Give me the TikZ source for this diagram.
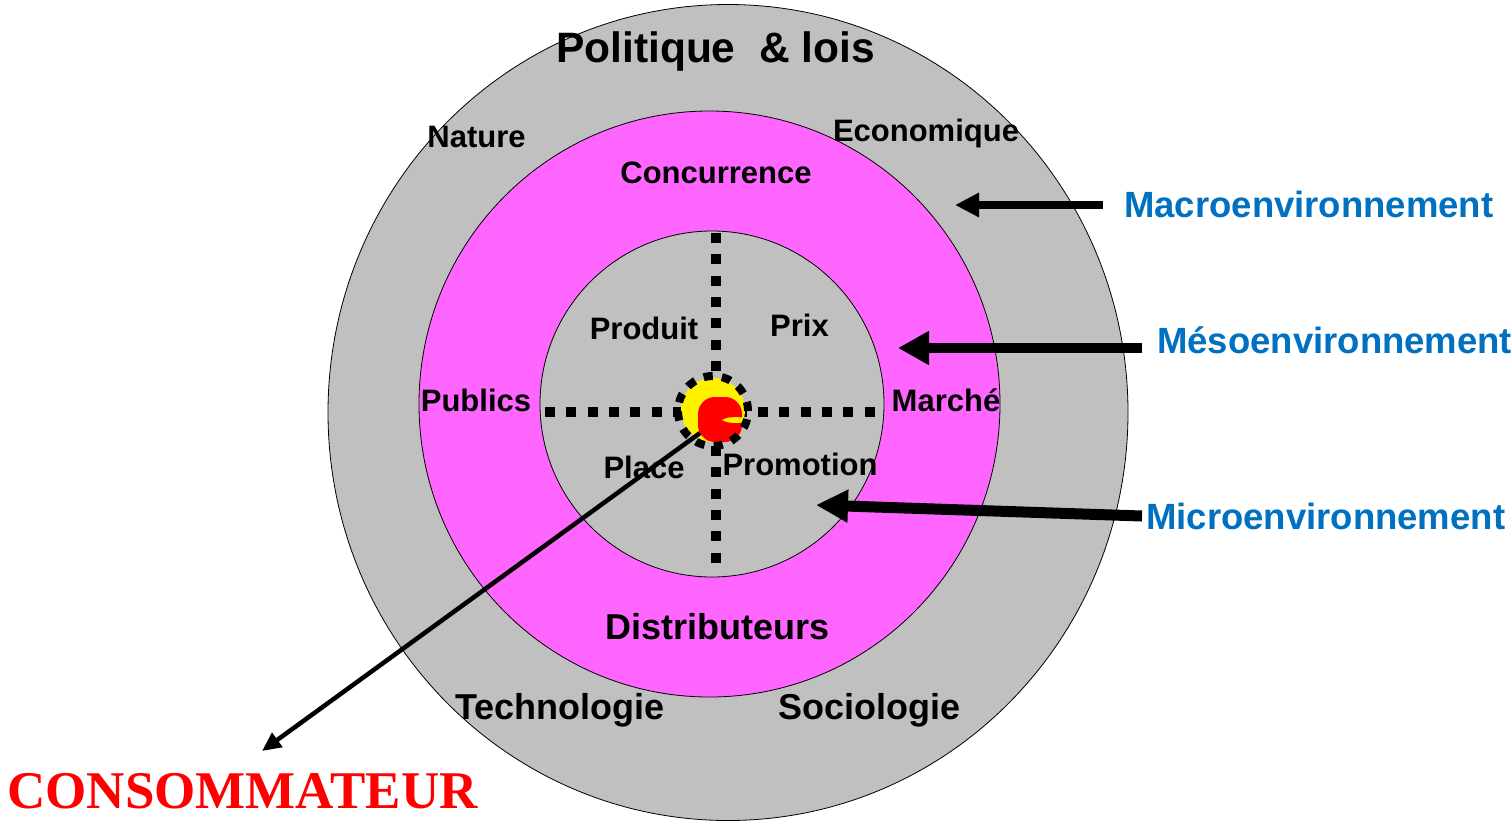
\documentclass[tikz,border=0pt]{standalone}
\usepackage{fontspec}
\setmainfont{Liberation Sans}
\newfontfamily\timesfont{Liberation Serif}
\usetikzlibrary{arrows.meta}
\definecolor{ringgrey}{HTML}{C0C0C0}
\definecolor{ringpink}{HTML}{FF66FF}
\definecolor{envblue}{HTML}{0070C0}
\definecolor{consred}{HTML}{FF0000}
\tikzset{
  lblS/.style={font=\bfseries\fontsize{31}{31}\selectfont, inner sep=0pt, anchor=base},
  lblM/.style={font=\bfseries\fontsize{36}{36}\selectfont, inner sep=0pt, anchor=base},
  lblL/.style={font=\bfseries\fontsize{42.5}{42.5}\selectfont, inner sep=0pt, anchor=base},
  envlbl/.style={font=\bfseries\fontsize{36.5}{36.5}\selectfont, text=envblue, inner sep=0pt, anchor=base west},
  dotline/.style={line width=10pt, dash pattern=on 10pt off 11.3pt},
}
\begin{document}
\begin{tikzpicture}[x=1pt,y=-1pt]
\useasboundingbox (0,0) rectangle (1512,823);
% rings
\draw[fill=ringgrey, line width=0.8pt] (728,412.5) ellipse [x radius=400pt, y radius=408pt];
\draw[fill=ringpink, line width=0.8pt] (709.5,404) ellipse [x radius=290.5pt, y radius=293pt];
\draw[fill=ringgrey, line width=0.8pt] (712,404) ellipse [x radius=172pt, y radius=173pt];
% dotted cross
\coordinate (vtop) at (715.5,233);
\coordinate (vbot) at (715.5,566);
\coordinate (hleft) at (545,412);
\coordinate (hright) at (882,412);
\draw[dotline] (vtop) -- (vbot);
\draw[dotline] (hleft) -- (hright);
% core
\fill[yellow] (713,410) circle [radius=32pt];
\fill[consred, rounded corners=17pt] (698,397) rectangle (742,442);
\fill[yellow] (722,420) .. controls (727,416.5) and (736,417) .. (743,417.5)
  -- (743,422.5) .. controls (736,423) and (727,423.5) .. (722,420) -- cycle;
\draw[line width=8pt, dash pattern=on 9.2pt off 9.2pt] (713,411) circle [radius=35pt];
\coordinate (core) at (700,433);
% labels
\node[lblL] (politique) at (715.5,62.5) {Politique\ \ \& lois};
\node[lblS] (nature) at (476.5,147) {Nature};
\node[lblS] (economique) at (926,141) {Economique};
\node[lblS] (concurrence) at (716,183) {Concurrence};
\node[lblS] (produit) at (644,339) {Produit};
\node[lblS] (prix) at (799.5,336) {Prix};
\node[lblS] (publics) at (476,411) {Publics};
\node[lblS] (marche) at (946,411) {Marché};
\node[lblS] (place) at (644,478) {Place};
\node[lblS] (promotion) at (800,475) {Promotion};
\node[lblM] (distributeurs) at (717.5,639) {Distributeurs};
\node[lblM] (technologie) at (560,719) {Technologie};
\node[lblM] (sociologie) at (869.5,719) {Sociologie};
\node[envlbl] (macro) at (1124,217) {Macroenvironnement};
\node[envlbl] (meso) at (1157,353) {Mésoenvironnement};
\node[envlbl] (micro) at (1146,529) {Microenvironnement};
\node[font=\timesfont\bfseries\fontsize{53}{53}\selectfont, text=consred, inner sep=0pt, anchor=base] (conso) at (242.5,808) {CONSOMMATEUR};
% arrows
\coordinate (macroS) at (1103,205);
\coordinate (macroT) at (955,205);
\coordinate (mesoS) at (1142,348);
\coordinate (mesoT) at (898,348);
\coordinate (microS) at (1142,516);
\coordinate (microT) at (816,505);
\coordinate (consoT) at (262,751);
\draw[line width=8pt, -{Triangle[length=24pt,width=23pt]}] (macroS) -- (macroT);
\draw[line width=10pt, -{Triangle[length=31pt,width=32pt]}] (mesoS) -- (mesoT);
\draw[line width=11pt, -{Triangle[length=32pt,width=31pt]}] (microS) -- (microT);
\draw[line width=4.5pt, -{Triangle[length=19pt,width=17pt]}] (core) -- (consoT);
\end{tikzpicture}
\end{document}
